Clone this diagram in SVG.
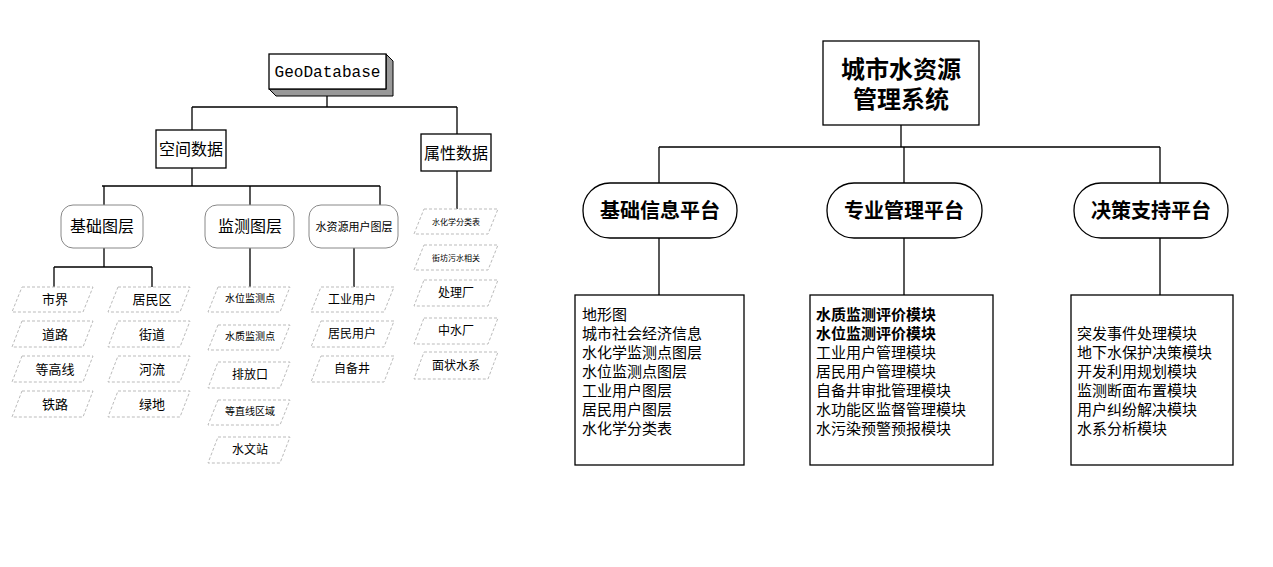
<svg xmlns="http://www.w3.org/2000/svg" width="1273" height="567" viewBox="0 0 1273 567">
<style>
text{font-family:"Liberation Serif","Noto Sans CJK SC",serif;fill:#000}
.b{fill:#fff;stroke:#000;stroke-width:1.3}
.p{fill:#fff;stroke:#bbb;stroke-width:1;stroke-dasharray:3,2}
.c{fill:none;stroke:#000;stroke-width:1.3}
.s{font-size:13px;text-anchor:middle}
.t{font-size:10px;text-anchor:middle}
.m{font-size:15px}
</style>
<rect width="1273" height="567" fill="#fff"/>
<g id="connectors">
<path class="c" d="M327 89V107M192 107H457M192 107V130M457 107V134M192 168V186M102 186H380M104 186V205M250 186V205M380 186V205M104 248V267M54 267H152M54 267V287M152 267V287M250 248V287M354 248V287M457 171V209"/>
<path class="c" d="M901 125V147M659 147H1160M659 147V183M904 147V183M1160 147V183M659 238V295M904 238V295M1160 238V295"/>
</g>
<g id="geodatabase"><polygon points="386,54 393,61 393,96 276,96 269,89 386,89" fill="#999" stroke="#000"/><rect class="b" x="269" y="54" width="117" height="35"/><text x="327.5" y="77" style="font-family:'Liberation Mono',monospace;font-size:16px" text-anchor="middle" textLength="106" lengthAdjust="spacingAndGlyphs">GeoDatabase</text></g>
<g id="kongjian"><rect class="b" x="156" y="130" width="70" height="38"/><text x="191" y="155" style="font-size:16px" text-anchor="middle">空间数据</text></g>
<g id="shuxing"><rect class="b" x="421" y="134" width="70" height="37"/><text x="456" y="159" style="font-size:16px" text-anchor="middle">属性数据</text></g>
<g id="jichu"><rect x="61" y="205" width="82" height="43" rx="12" fill="#fff" stroke="#888"/><text x="102" y="232" style="font-size:16px" text-anchor="middle">基础图层</text></g>
<g id="jiance"><rect x="205" y="205" width="89" height="43" rx="12" fill="#fff" stroke="#888"/><text x="250" y="232" style="font-size:16px" text-anchor="middle">监测图层</text></g>
<g id="yonghu"><rect x="309" y="205" width="89" height="43" rx="12" fill="#fff" stroke="#888"/><text x="354" y="231" class="s" style="font-size:11px">水资源用户图层</text></g>
<g id="p1"><polygon class="p" points="22,287 93,287 83,312 12,312"/><text x="55" y="304" class="s">市界</text></g>
<g id="p2"><polygon class="p" points="22,321 93,321 83,347 12,347"/><text x="55" y="339" class="s">道路</text></g>
<g id="p3"><polygon class="p" points="22,356 93,356 83,382 12,382"/><text x="55" y="374" class="s">等高线</text></g>
<g id="p4"><polygon class="p" points="22,391 93,391 83,417 12,417"/><text x="55" y="409" class="s">铁路</text></g>
<g id="p5"><polygon class="p" points="118,287 190,287 180,312 108,312"/><text x="152" y="304" class="s">居民区</text></g>
<g id="p6"><polygon class="p" points="118,321 190,321 180,347 108,347"/><text x="152" y="339" class="s">街道</text></g>
<g id="p7"><polygon class="p" points="118,356 190,356 180,382 108,382"/><text x="152" y="374" class="s">河流</text></g>
<g id="p8"><polygon class="p" points="118,391 190,391 180,417 108,417"/><text x="152" y="409" class="s">绿地</text></g>
<g id="p9"><polygon class="p" points="218,287 290,287 280,312 208,312"/><text x="250" y="302" class="t">水位监测点</text></g>
<g id="p10"><polygon class="p" points="218,325 290,325 280,350 208,350"/><text x="250" y="340" class="t">水质监测点</text></g>
<g id="p11"><polygon class="p" points="218,362 290,362 280,388 208,388"/><text x="250" y="379" class="s" style="font-size:12px">排放口</text></g>
<g id="p12"><polygon class="p" points="218,400 290,400 280,425 208,425"/><text x="250" y="415" class="t">等直线区域</text></g>
<g id="p13"><polygon class="p" points="218,437 290,437 280,463 208,463"/><text x="250" y="454" class="s" style="font-size:12px">水文站</text></g>
<g id="p14"><polygon class="p" points="321,287 394,287 384,312 311,312"/><text x="352" y="304" class="s" style="font-size:12px">工业用户</text></g>
<g id="p15"><polygon class="p" points="321,321 394,321 384,347 311,347"/><text x="352" y="338" class="s" style="font-size:12px">居民用户</text></g>
<g id="p16"><polygon class="p" points="321,356 394,356 384,382 311,382"/><text x="352" y="373" class="s" style="font-size:12px">自备井</text></g>
<g id="p17"><polygon class="p" points="424,209 498,209 488,234 414,234"/><text x="456" y="225" class="t" style="font-size:8px">水化学分类表</text></g>
<g id="p18"><polygon class="p" points="424,245 498,245 488,270 414,270"/><text x="456" y="261" class="t" style="font-size:8px">街坊污水相关</text></g>
<g id="p19"><polygon class="p" points="424,280 498,280 488,306 414,306"/><text x="456" y="297" class="s" style="font-size:12px">处理厂</text></g>
<g id="p20"><polygon class="p" points="424,318 498,318 488,344 414,344"/><text x="456" y="335" class="s" style="font-size:12px">中水厂</text></g>
<g id="p21"><polygon class="p" points="424,352 498,352 488,379 414,379"/><text x="456" y="370" class="s" style="font-size:12px">面状水系</text></g>
<g id="system"><rect class="b" x="823" y="41" width="156" height="84"/><text x="901" y="78" style="font-size:24px;font-weight:bold" text-anchor="middle">城市水资源</text><text x="901" y="108" style="font-size:24px;font-weight:bold" text-anchor="middle">管理系统</text></g>
<g id="jichupt"><rect class="b" x="583" y="183" width="154" height="55" rx="27"/><text x="660" y="218" style="font-size:20px;font-weight:bold" text-anchor="middle">基础信息平台</text></g>
<g id="zhuanye"><rect class="b" x="827" y="183" width="155" height="55" rx="27"/><text x="904" y="218" style="font-size:20px;font-weight:bold" text-anchor="middle">专业管理平台</text></g>
<g id="juece"><rect class="b" x="1074" y="183" width="154" height="55" rx="27"/><text x="1151" y="218" style="font-size:20px;font-weight:bold" text-anchor="middle">决策支持平台</text></g>
<g id="box1"><rect class="b" x="575" y="295" width="169" height="170"/><text class="m" x="582" y="320">地形图<tspan x="582" dy="19">城市社会经济信息</tspan><tspan x="582" dy="19">水化学监测点图层</tspan><tspan x="582" dy="19">水位监测点图层</tspan><tspan x="582" dy="19">工业用户图层</tspan><tspan x="582" dy="19">居民用户图层</tspan><tspan x="582" dy="19">水化学分类表</tspan></text></g>
<g id="box2"><rect class="b" x="810" y="295" width="183" height="170"/><text class="m" x="816" y="320"><tspan font-weight="bold">水质监测评价模块</tspan><tspan x="816" dy="19" font-weight="bold">水位监测评价模块</tspan><tspan x="816" dy="19">工业用户管理模块</tspan><tspan x="816" dy="19">居民用户管理模块</tspan><tspan x="816" dy="19">自备井审批管理模块</tspan><tspan x="816" dy="19">水功能区监督管理模块</tspan><tspan x="816" dy="19">水污染预警预报模块</tspan></text></g>
<g id="box3"><rect class="b" x="1071" y="295" width="162" height="170"/><text class="m" x="1077" y="339">突发事件处理模块<tspan x="1077" dy="19">地下水保护决策模块</tspan><tspan x="1077" dy="19">开发利用规划模块</tspan><tspan x="1077" dy="19">监测断面布置模块</tspan><tspan x="1077" dy="19">用户纠纷解决模块</tspan><tspan x="1077" dy="19">水系分析模块</tspan></text></g>
</svg>
